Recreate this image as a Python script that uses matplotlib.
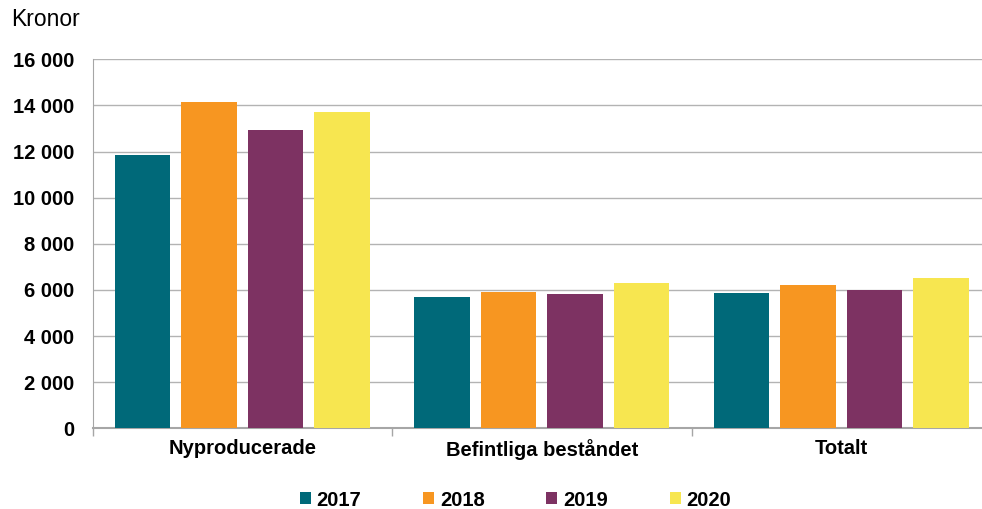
import matplotlib
matplotlib.use("Agg")
import matplotlib.pyplot as plt
import numpy as np
from matplotlib.ticker import FuncFormatter, FixedLocator

plt.rcParams['font.family'] = ['Liberation Sans', 'DejaVu Sans']

categories = ["Nyproducerade", "Befintliga beståndet", "Totalt"]
years = ["2017", "2018", "2019", "2020"]
values_2017 = [11850, 5680, 5880]
values_2018 = [14150, 5910, 6230]
values_2019 = [12950, 5820, 6010]
values_2020 = [13700, 6300, 6530]
series = [values_2017, values_2018, values_2019, values_2020]
colors = ["#006979", "#F79621", "#7D3262", "#F7E650"]

fig = plt.figure(figsize=(9.82, 5.09), dpi=100)
ax = fig.add_axes([92.6 / 982, 80.7 / 509, 898.5 / 982, 369 / 509])

n = len(years)
step = 0.222
width = 0.185
x = np.arange(len(categories)) + 0.5
for i, (vals, col) in enumerate(zip(series, colors)):
    ax.bar(x + (i - (n - 1) / 2) * step, vals, width=width, color=col,
           label=years[i], zorder=3)

ax.set_xlim(0, len(categories))
ax.set_ylim(0, 16000)
ax.set_yticks(np.arange(0, 16001, 2000))
ax.yaxis.set_major_formatter(FuncFormatter(lambda v, p: f"{int(v):,}".replace(",", " ")))
ax.grid(axis='y', color='#b3b3b3', linewidth=1.0, zorder=0)
ax.tick_params(axis='y', length=0, pad=13, labelsize=14.5)
for lab in ax.get_yticklabels():
    lab.set_fontweight('bold')

ax.set_xticks(x)
ax.set_xticklabels(categories, fontsize=14.5, fontweight='bold')
ax.tick_params(axis='x', which='major', length=0, pad=8)
ax.xaxis.set_minor_locator(FixedLocator(np.arange(0, len(categories) + 1)))
ax.tick_params(axis='x', which='minor', length=6, color='#a6a6a6', width=1)

for s in ['top', 'right']:
    ax.spines[s].set_visible(False)
ax.spines['left'].set_color('#a6a6a6')
ax.spines['bottom'].set_color('#a6a6a6')
ax.spines['bottom'].set_linewidth(1.5)

fig.text(11 / 982, 1 - 20 / 509, "Kronor", fontsize=16.5, va='center', ha='left')

leg = fig.legend(loc='center', bbox_to_anchor=(515.5 / 982, 1 - 500 / 509), ncol=4,
                 frameon=False, handlelength=0.55, handleheight=0.55,
                 handletextpad=0.3, columnspacing=3.05,
                 prop={'weight': 'bold', 'size': 14.5})

fig.savefig("out.png", dpi=100)
